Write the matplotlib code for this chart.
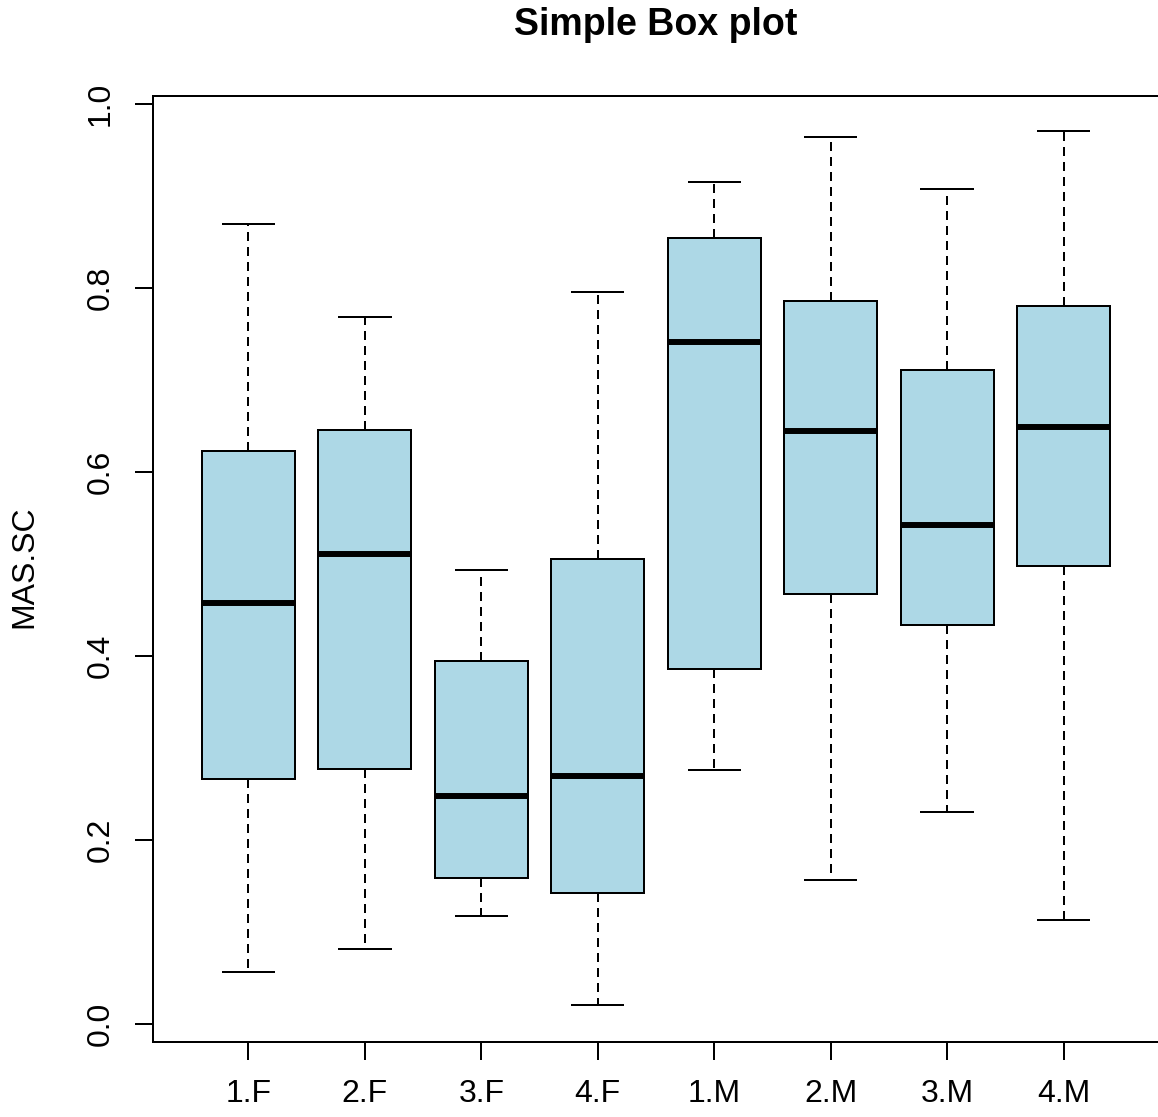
import matplotlib
matplotlib.use("Agg")
import matplotlib.pyplot as plt

# Five-number summaries per group (whisker low, Q1, median, Q3, whisker high)
groups = ["1.F", "2.F", "3.F", "4.F", "1.M", "2.M", "3.M", "4.M"]
whisker_low = [0.057, 0.082, 0.117, 0.021, 0.276, 0.157, 0.230, 0.113]
q1 = [0.266, 0.277, 0.159, 0.142, 0.386, 0.467, 0.434, 0.498]
median = [0.458, 0.511, 0.248, 0.270, 0.741, 0.645, 0.542, 0.649]
q3 = [0.623, 0.646, 0.395, 0.505, 0.854, 0.786, 0.711, 0.780]
whisker_high = [0.870, 0.769, 0.494, 0.796, 0.915, 0.964, 0.908, 0.971]
y_ticks = [0.0, 0.2, 0.4, 0.6, 0.8, 1.0]

plt.rcParams["font.family"] = ["Liberation Sans", "DejaVu Sans"]

W, H = 1158, 1117
fig = plt.figure(figsize=(W / 100, H / 100), dpi=100)
ax = fig.add_axes([153 / W, (H - 1042) / H, (1159 - 153) / W, (1042 - 96) / H])

stats = []
for i, g in enumerate(groups):
    stats.append(dict(label=g, whislo=whisker_low[i], q1=q1[i], med=median[i],
                      q3=q3[i], whishi=whisker_high[i], fliers=[]))

positions = list(range(1, len(groups) + 1))
lw = 1.44
ax.bxp(stats, positions=positions, widths=0.8, patch_artist=True,
       showfliers=False, capwidths=0.44,
       boxprops=dict(facecolor="#ADD8E6", edgecolor="black", linewidth=lw),
       medianprops=dict(color="black", linewidth=4.3, solid_capstyle="butt"),
       whiskerprops=dict(color="black", linewidth=lw, linestyle=(0, (4.5, 3.0))),
       capprops=dict(color="black", linewidth=lw))

ax.set_xlim(0.18, len(groups) + 0.82)
ax.set_ylim(-0.0196, 1.0087)
ax.set_xticks(positions)
ax.set_xticklabels(groups)
ax.set_yticks(y_ticks)
ax.set_yticklabels([f"{v:.1f}" for v in y_ticks], rotation=90, va="center")

for s in ax.spines.values():
    s.set_linewidth(lw)
    s.set_color("black")

ax.tick_params(axis="both", length=13, width=lw, labelsize=23, color="black")
ax.tick_params(axis="x", pad=14)
ax.tick_params(axis="y", pad=14)

ax.set_title("Simple Box plot", fontsize=27, fontweight="bold", pad=44)
fig.text(24 / W, 1 - 567 / H, "MAS.SC", rotation=90, ha="center", va="center",
         fontsize=23)

fig.savefig("out.png", dpi=100)
